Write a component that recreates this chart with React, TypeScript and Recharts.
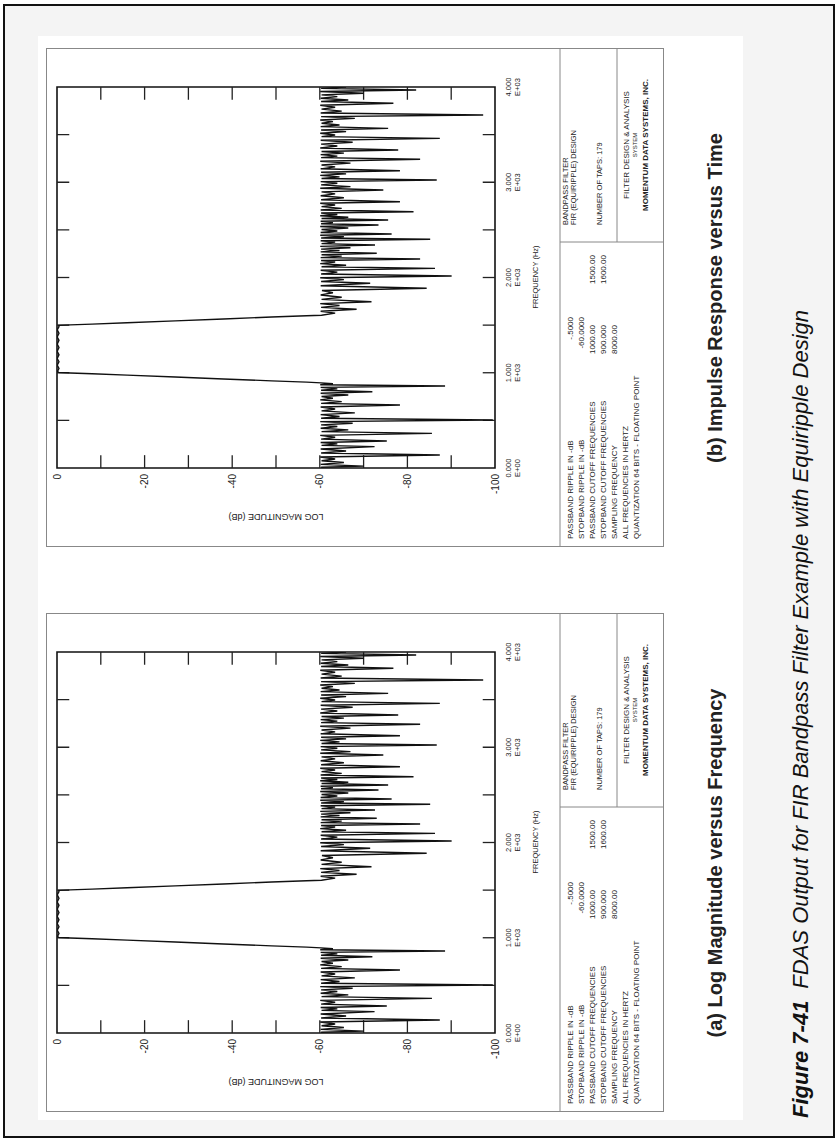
import React from "react";
import { LineChart, Line, XAxis, YAxis, ReferenceArea, ReferenceLine } from "recharts";

// ---- data (frequency in Hz, log magnitude in dB) ----
const stopLowFreq = [0, 8, 20, 38, 57, 76, 95, 115, 136, 157, 178, 200, 224, 238, 253, 268, 283, 303, 323, 343, 364, 382, 400, 418, 436, 453, 470, 487, 504, 522, 541, 560, 579, 600, 620, 640, 661, 679, 697, 715, 733, 750, 767, 784, 801, 816, 831, 846, 861, 874, 886, 894];
const stopLowDb = [-64, -60.3, -70, -60.2, -65.5, -60.4, -63.5, -60.1, -87.4, -60.3, -66, -60.2, -72.5, -60.4, -64, -60.2, -75.3, -60.3, -63.5, -60.1, -85.6, -60.4, -66.5, -60.2, -64, -60.3, -67.5, -60.1, -99.5, -60.3, -64.5, -60.2, -68, -60.4, -63.5, -60.2, -78.3, -60.3, -65, -60.1, -63, -60.4, -66.5, -60.2, -72, -60.3, -64, -60.2, -88.6, -60.1, -63, -60.3];

const passFreq = [902, 915, 935, 955, 975, 990, 997, 1003, 1015, 1045, 1080, 1115, 1150, 1190, 1225, 1265, 1300, 1340, 1375, 1415, 1450, 1485, 1497, 1503, 1510, 1525, 1545, 1565, 1585, 1598];
const passDb = [-57, -49, -38, -27, -16, -8, -3, -0.4, -0.1, -0.45, -0.05, -0.45, -0.05, -0.45, -0.05, -0.45, -0.05, -0.45, -0.05, -0.45, -0.05, -0.45, -0.4, -3, -8, -16, -27, -38, -49, -57];

const stopHighFreq = [
  1603, 1626, 1646, 1666, 1686, 1706, 1726, 1746, 1770, 1793,
  1817, 1840, 1864, 1887, 1913, 1939, 1958, 1978, 1997, 2016,
  2036, 2056, 2076, 2096, 2113, 2129, 2146, 2162, 2178, 2194,
  2209, 2224, 2239, 2254, 2269, 2283, 2298, 2312, 2327, 2341,
  2356, 2371, 2386, 2401, 2415, 2429, 2443, 2457, 2473, 2488,
  2504, 2519, 2535, 2551, 2565, 2578, 2591, 2604, 2619, 2633,
  2648, 2662, 2677, 2691, 2709, 2726, 2744, 2761, 2779, 2796,
  2817, 2837, 2858, 2878, 2899, 2919, 2937, 2954, 2972, 2989,
  3007, 3024, 3040, 3056, 3072, 3088, 3105, 3121, 3141, 3161,
  3181, 3201, 3221, 3241, 3258, 3274, 3290, 3306, 3323, 3339,
  3360, 3380, 3400, 3420, 3441, 3461, 3479, 3496, 3514, 3531,
  3549, 3566, 3584, 3601, 3619, 3636, 3654, 3671, 3689, 3706,
  3727, 3747, 3768, 3788, 3809, 3829, 3847, 3864, 3882, 3899,
  3917, 3934, 3952, 3969, 3986, 4000,
];
const stopHighDb = [
  -60.4, -63.5, -60.2, -68.4, -60.3, -64.5, -60.1, -71.8, -60.4, -65,
  -60.2, -63, -60.5, -84.4, -60.2, -71.5, -60.3, -65.5, -60.1, -90.1,
  -60.3, -64, -60.2, -86.3, -60.4, -66, -60.1, -63.5, -60.3, -82.9,
  -60.2, -65, -60.4, -73, -60.2, -64.5, -60.3, -67, -60.1, -72.6,
  -60.4, -63.5, -60.2, -85.2, -60.3, -65.5, -60.1, -76.4, -60.2, -64,
  -60.4, -66.5, -60.1, -73.4, -60.3, -63, -60.2, -75.6, -60.4, -66.5,
  -60.1, -64, -60.3, -81.4, -60.2, -65, -60.4, -63.5, -60.1, -78.3,
  -60.3, -65.5, -60.2, -63.5, -60.4, -74.5, -60.1, -67, -60.3, -64,
  -60.2, -86.7, -60.4, -64.5, -60.1, -66, -60.3, -78.3, -60.2, -63.5,
  -60.4, -67, -60.1, -82.9, -60.3, -64, -60.2, -65.5, -60.4, -77.9,
  -60.1, -64, -60.3, -67.5, -60.2, -87.4, -60.4, -63.5, -60.1, -66,
  -60.3, -75.6, -60.2, -64.5, -60.4, -63, -60.1, -68, -60.3, -97.3,
  -60.2, -65, -60.4, -63.5, -60.1, -76.8, -60.3, -66.5, -60.2, -64,
  -60.4, -70, -60.1, -82, -60.3, -66,
];

// ---- axes ----
const freqTicks = [0, 1000, 2000, 3000, 4000];
const freqTickMain = ["0.000", "1.000", "2.000", "3.000", "4.000"];
const freqTickExp = ["E+00", "E+03", "E+03", "E+03", "E+03"];
const freqMinorTicks = [500, 1000, 1500, 2000, 2500, 3000, 3500];
const magTicks = [0, -20, -40, -60, -80, -100];
const magMinorTicks = [-10, -20, -30, -40, -50, -60, -70, -80, -90];

// ---- table texts ----
const paramLabels = [
  "PASSBAND RIPPLE IN -dB",
  "STOPBAND RIPPLE IN -dB",
  "PASSBAND CUTOFF FREQUENCIES",
  "STOPBAND CUTOFF FREQUENCIES",
  "SAMPLING FREQUENCY",
  "ALL FREQUENCIES IN HERTZ",
  "QUANTIZATION 64 BITS - FLOATING POINT",
];
const paramValues1 = ["-.5000", "-60.0000", "1000.00", "900.000", "8000.00", "", ""];
const paramValues2 = ["", "", "1500.00", "1600.00", "", "", ""];
const designLines = ["BANDPASS FILTER", "FIR (EQUIRIPPLE) DESIGN"];
const tapsLine = "NUMBER OF TAPS: 179";
const vendorLines = ["FILTER DESIGN & ANALYSIS", "SYSTEM", "MOMENTUM DATA SYSTEMS, INC."];

const panelCaptions = ["(a) Log Magnitude versus Frequency", "(b) Impulse Response versus Time"];
const figureLabel = "Figure 7-41";
const figureTitle = "FDAS Output for FIR Bandpass Filter Example with Equiripple Design";

const data = [
  ...stopLowFreq.map((f, i) => ({ f, db: stopLowDb[i] })),
  ...passFreq.map((f, i) => ({ f, db: passDb[i] })),
  ...stopHighFreq.map((f, i) => ({ f, db: stopHighDb[i] })),
];

const FONT = '"Liberation Sans", Arial, Helvetica, sans-serif';
const PW = 499;
const PH = 618;

const freqTick = (p: any) => {
  const i = freqTicks.indexOf(p.payload.value);
  return (
    <g>
      <text x={p.x} y={p.y + 16} textAnchor="middle" fontSize={7.5} fill="#222" fontFamily={FONT}>
        {freqTickMain[i]}
      </text>
      <text x={p.x} y={p.y + 24.5} textAnchor="middle" fontSize={7.5} fill="#222" fontFamily={FONT}>
        {freqTickExp[i]}
      </text>
    </g>
  );
};

const magTick = (p: any) => (
  <text x={p.x - 6} y={p.y + 3.5} textAnchor="end" fontSize={10} fill="#222" fontFamily={FONT}>
    {String(p.payload.value)}
  </text>
);

function Panel({ left, top }: { left: number; top: number }) {
  const tickDb = 2.8;
  const tickHz = 135;
  return (
    <div style={{ position: "absolute", left, top, width: PW, height: PH, background: "#fff" }}>
      <LineChart width={PW} height={PH} data={data} margin={{ top: 11, right: 39, bottom: 0, left: 0 }}>
        <XAxis
          dataKey="f"
          type="number"
          domain={[0, 4000]}
          allowDataOverflow
          ticks={freqTicks}
          interval={0}
          height={169}
          tickLine={false}
          axisLine={false}
          tickSize={0}
          tickMargin={0}
          tick={freqTick}
        />
        <YAxis
          type="number"
          domain={[-100, 0]}
          allowDataOverflow
          ticks={magTicks}
          interval={0}
          width={79}
          tickLine={false}
          axisLine={false}
          tickSize={0}
          tickMargin={0}
          tick={magTick}
        />
        <ReferenceArea x1={0} x2={4000} y1={-100} y2={0} fill="none" stroke="#111" strokeWidth={1.6} ifOverflow="visible" />
        {freqMinorTicks.map((f) => (
          <ReferenceLine key={"ft" + f} segment={[{ x: f, y: 0 }, { x: f, y: -tickDb }]} stroke="#222" strokeWidth={1.3} ifOverflow="visible" />
        ))}
        {freqMinorTicks.map((f) => (
          <ReferenceLine key={"fb" + f} segment={[{ x: f, y: -100 }, { x: f, y: -100 + tickDb }]} stroke="#222" strokeWidth={1.3} ifOverflow="visible" />
        ))}
        {magMinorTicks.map((m) => (
          <ReferenceLine key={"ml" + m} segment={[{ x: 0, y: m }, { x: tickHz, y: m }]} stroke="#222" strokeWidth={1.3} ifOverflow="visible" />
        ))}
        {magMinorTicks.map((m) => (
          <ReferenceLine key={"mr" + m} segment={[{ x: 4000 - tickHz, y: m }, { x: 4000, y: m }]} stroke="#222" strokeWidth={1.3} ifOverflow="visible" />
        ))}
        <Line dataKey="db" type="linear" stroke="#111" strokeWidth={1.4} dot={false} isAnimationActive={false} />
      </LineChart>
      <svg width={PW} height={PH} style={{ position: "absolute", left: 0, top: 0, pointerEvents: "none" }} fontFamily={FONT}>
        <rect x={0.5} y={0.5} width={PW - 1} height={PH - 1} fill="none" stroke="#888" strokeWidth={1} />
        <text x={33} y={230} transform="rotate(-90 33 230)" textAnchor="middle" fontSize={9} fill="#222">
          LOG MAGNITUDE (dB)
        </text>
        <text x={270} y={492} textAnchor="middle" fontSize={7.5} fill="#222">
          FREQUENCY (Hz)
        </text>
        <line x1={0} y1={514} x2={PW} y2={514} stroke="#888" strokeWidth={1} />
        <line x1={305} y1={514} x2={305} y2={PH} stroke="#888" strokeWidth={1} />
        <line x1={305} y1={571} x2={PW} y2={571} stroke="#888" strokeWidth={1} />
        {paramLabels.map((t, i) => (
          <text key={"pl" + i} x={8} y={526.5 + i * 11} fontSize={8} fill="#222">
            {t}
          </text>
        ))}
        {paramValues1.map((t, i) => (
          <text key={"pv" + i} x={i < 2 ? 230 : 193} y={526.5 + i * 11} textAnchor={i < 2 ? "end" : "start"} fontSize={8} fill="#222">
            {t}
          </text>
        ))}
        {paramValues2.map((t, i) => (
          <text key={"pw" + i} x={263} y={526.5 + i * 11} fontSize={8} fill="#222">
            {t}
          </text>
        ))}
        {designLines.map((t, i) => (
          <text key={"dl" + i} x={322} y={522 + i * 8} fontSize={7.5} fill="#222">
            {t}
          </text>
        ))}
        <text x={322} y={556} fontSize={7.5} fill="#222">
          {tapsLine}
        </text>
        {vendorLines.map((t, i) => (
          <text
            key={"vl" + i}
            x={402}
            y={[583, 591, 602][i]}
            textAnchor="middle"
            fontSize={i === 1 ? 6 : 8}
            fontWeight={i === 2 ? 700 : 400}
            fill="#222"
          >
            {t}
          </text>
        ))}
      </svg>
    </div>
  );
}

export default function App() {
  return (
    <div style={{ position: "absolute", left: 0, top: 0, width: 837, height: 1140, overflow: "hidden", background: "#fff" }}>
      <div
        style={{
          position: "absolute",
          left: 0,
          top: 0,
          width: 1140,
          height: 837,
          transform: "translate(0px, 1140px) rotate(-90deg)",
          transformOrigin: "0 0",
          fontFamily: FONT,
        }}
      >
        <svg width={1140} height={837} style={{ position: "absolute", left: 0, top: 0 }} fontFamily={FONT}>
          <rect x={3} y={4} width={1132} height={830} fill="#f4f4f4" stroke="#111" strokeWidth={2} />
          <rect x={20} y={38} width={1084} height={705} fill="#fff" />
          <text x={277} y={722} textAnchor="middle" fontSize={20} fontWeight={700} fill="#222">
            {panelCaptions[0]}
          </text>
          <text x={842} y={722} textAnchor="middle" fontSize={20} fontWeight={700} fill="#222">
            {panelCaptions[1]}
          </text>
          <text x={22} y={808} fontSize={22} fontStyle="italic" fill="#111">
            <tspan fontWeight={700}>{figureLabel}</tspan>
            <tspan dx={12}>{figureTitle}</tspan>
          </text>
        </svg>
        <Panel left={28} top={46} />
        <Panel left={593} top={46} />
      </div>
    </div>
  );
}
